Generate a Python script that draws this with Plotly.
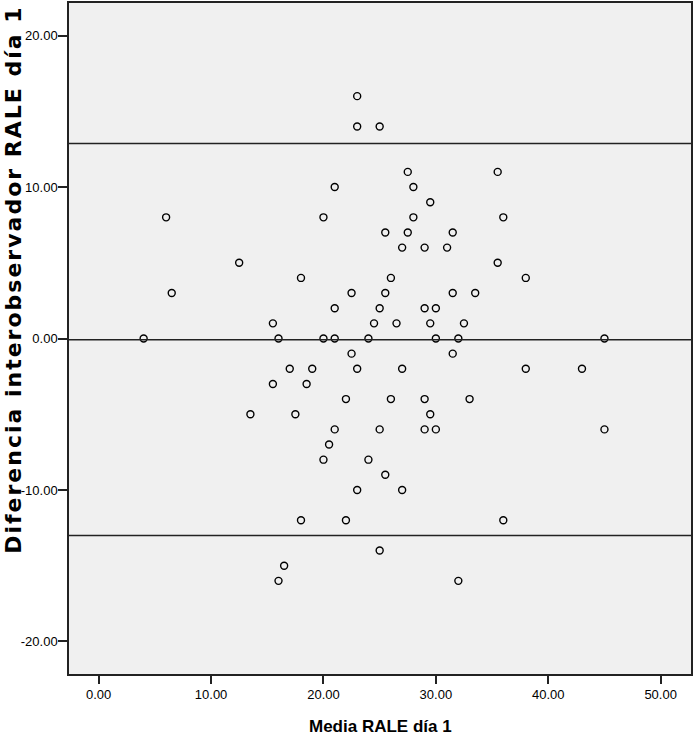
import plotly.graph_objects as go

# Bland-Altman data: mean of the two observers (x) and their difference (y)
media_rale = [23, 23, 25, 27.5, 35.5, 21, 28, 29.5, 6, 20, 28, 36, 25.5, 27.5, 31.5,
              27, 29, 31, 12.5, 35.5, 18, 26, 38, 6.5, 22.5, 25.5, 31.5, 33.5,
              21, 25, 29, 30, 15.5, 24.5, 26.5, 29.5, 32.5,
              4, 16, 20, 21, 24, 30, 32, 45,
              22.5, 31.5, 17, 19, 23, 27, 38, 43, 15.5, 18.5,
              22, 26, 29, 33, 13.5, 17.5, 29.5, 21, 25, 29, 30, 45,
              20.5, 20, 24, 25.5, 23, 27, 18, 22, 36, 25, 16.5, 16, 32]
diferencia = [16, 14, 14, 11, 11, 10, 10, 9, 8, 8, 8, 8, 7, 7, 7,
              6, 6, 6, 5, 5, 4, 4, 4, 3, 3, 3, 3, 3,
              2, 2, 2, 2, 1, 1, 1, 1, 1,
              0, 0, 0, 0, 0, 0, 0, 0,
              -1, -1, -2, -2, -2, -2, -2, -2, -3, -3,
              -4, -4, -4, -4, -5, -5, -5, -6, -6, -6, -6, -6,
              -7, -8, -8, -9, -10, -10, -12, -12, -12, -14, -15, -16, -16]

# Reference lines: upper limit, mean difference, lower limit
ref_lines = [12.87, -0.08, -13.0]

x_ticks = [0, 10, 20, 30, 40, 50]
y_ticks = [-20, -10, 0, 10, 20]
x_title = "Media RALE día 1"
y_title = "Diferencia interobservador RALE día 1"

tick_font = dict(family="Liberation Sans, Arial, sans-serif", size=13, color="black")

fig = go.Figure()
fig.add_trace(go.Scatter(
    x=media_rale, y=diferencia, mode="markers",
    marker=dict(symbol="circle-open", size=7, color="black", line=dict(width=1.4, color="black")),
    showlegend=False, hoverinfo="x+y",
))

for v in ref_lines:
    fig.add_shape(type="line", xref="paper", x0=0, x1=1, yref="y", y0=v, y1=v,
                  line=dict(color="#222222", width=1.5), layer="above")

fig.update_layout(
    width=697, height=737,
    margin=dict(l=69, r=6, t=3, b=63, autoexpand=False),
    paper_bgcolor="white",
    plot_bgcolor="#F0F0F0",
    xaxis=dict(
        range=[-2.64, 52.7], tickvals=x_ticks, ticktext=[f"{v:.2f}" for v in x_ticks],
        showgrid=False, zeroline=False, showline=True, mirror=True,
        linecolor="#222222", linewidth=1.5, automargin=False,
        ticks="outside", ticklen=8, tickwidth=1.5, tickcolor="#222222",
        tickfont=tick_font,
    ),
    yaxis=dict(
        range=[-22.15, 22.15], tickvals=y_ticks, ticktext=[f"{v:.2f}" for v in y_ticks],
        showgrid=False, zeroline=False, showline=True, mirror=True,
        linecolor="#222222", linewidth=1.5, automargin=False,
        ticks="outside", ticklen=9, tickwidth=2, tickcolor="#222222",
        tickfont=tick_font, ticklabelstandoff=-2,
    ),
    annotations=[
        dict(text=y_title, textangle=-90, xref="paper", yref="paper",
             x=-0.0905, y=0.587, xanchor="center", yanchor="middle", showarrow=False,
             font=dict(family="DejaVu Sans, Liberation Sans, sans-serif", size=22, color="black", weight="bold")),
        dict(text=x_title, xref="paper", yref="paper",
             x=0.5, y=-0.0775, xanchor="center", yanchor="middle", showarrow=False,
             font=dict(family="Liberation Sans, Arial, sans-serif", size=17, color="black", weight="bold")),
    ],
)

post = """
document.body.style.margin='0';
document.body.style.overflow='hidden';
function spaceTitle(){
  document.querySelectorAll('text.annotation-text').forEach(function(t){
    if(t.textContent.indexOf('Diferencia')===0){ t.style.letterSpacing='2px'; }
  });
}
spaceTitle();
setTimeout(spaceTitle, 50);
"""

fig.write_html("out.html", post_script=post, config={"displayModeBar": False})
